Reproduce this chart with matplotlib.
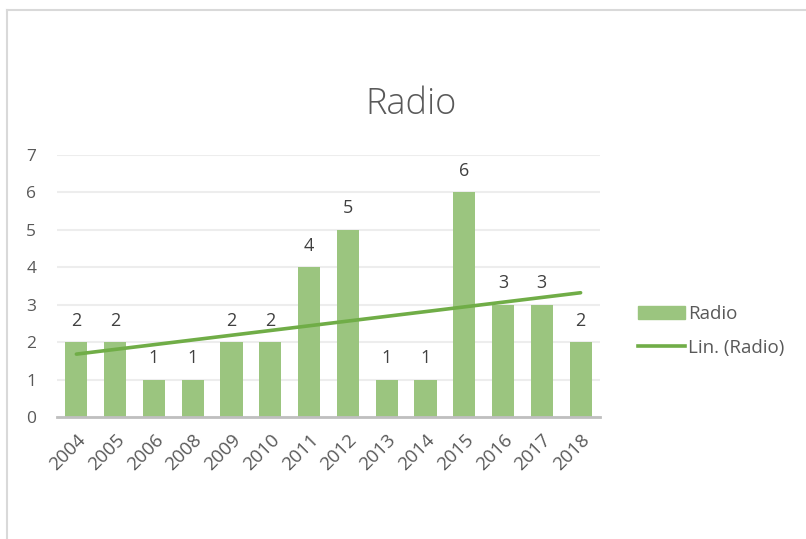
import matplotlib

matplotlib.use("Agg")
import matplotlib.pyplot as plt
from matplotlib.lines import Line2D
from matplotlib.patches import Patch

plt.rcParams["font.family"] = ["Open Sans", "DejaVu Sans"]

years = ["2004", "2005", "2006", "2008", "2009", "2010", "2011",
         "2012", "2013", "2014", "2015", "2016", "2017", "2018"]
radio = [2, 2, 1, 1, 2, 2, 4, 5, 1, 1, 6, 3, 3, 2]
# linear trend end values (first and last category)
trend_ends = [1.68, 3.32]

BAR = "#9BC57F"
TREND = "#70AD47"
TEXT = "#595959"
FS = 12.5

fig = plt.figure(figsize=(8.06, 5.39), dpi=100)
ax = fig.add_axes([57 / 806, 1 - 417 / 539, 543 / 806, 262 / 539])

x = list(range(len(years)))
ax.bar(x, radio, width=0.57, color=BAR, zorder=2)
for xi, v in zip(x, radio):
    ax.annotate(str(v), (xi, v), xytext=(0, 9), textcoords="offset points",
                ha="center", va="bottom", fontsize=13, color="#404040")

ax.plot([x[0], x[-1]], trend_ends, color=TREND, lw=2.6, zorder=3,
        solid_capstyle="round")

ax.set_xlim(-0.5, len(years) - 0.5)
ax.set_ylim(0, 7)
ax.set_yticks(range(8))
ax.yaxis.grid(True, color="#EDEDED", lw=1.5, zorder=0)
ax.tick_params(axis="y", length=0, pad=15, labelsize=FS, labelcolor=TEXT)
ax.tick_params(axis="x", length=0, pad=10, labelsize=13.5, labelcolor=TEXT)
ax.set_xticks(x)
ax.set_xticklabels(years, rotation=45, ha="right", va="top",
                   rotation_mode="anchor")
for side in ("top", "right", "left"):
    ax.spines[side].set_visible(False)
ax.spines["bottom"].set_color("#BFBFBF")
ax.spines["bottom"].set_linewidth(2)
ax.spines["bottom"].set_zorder(4)

fig.text(411 / 806, 1 - 104 / 539, "Radio", ha="center", va="center",
         fontsize=26, fontweight="light", color=TEXT)

handles = [Patch(color=BAR), Line2D([], [], color=TREND, lw=2.6)]
fig.legend(handles, ["Radio", "Lin. (Radio)"], loc="upper left",
           bbox_to_anchor=(621 / 806, 1 - 288 / 539), frameon=False,
           fontsize=13.5, labelcolor=TEXT, handlelength=2.5,
           handleheight=0.65, handletextpad=0.2, labelspacing=0.85)

# chart frame (left and top edges)
fig.add_artist(Line2D([7.5 / 806, 7.5 / 806], [0, 1 - 10 / 539],
                      transform=fig.transFigure, color="#D9D9D9", lw=1.5))
fig.add_artist(Line2D([7.5 / 806, 1], [1 - 10 / 539, 1 - 10 / 539],
                      transform=fig.transFigure, color="#D9D9D9", lw=1.5))

fig.savefig("out.png", dpi=100)
